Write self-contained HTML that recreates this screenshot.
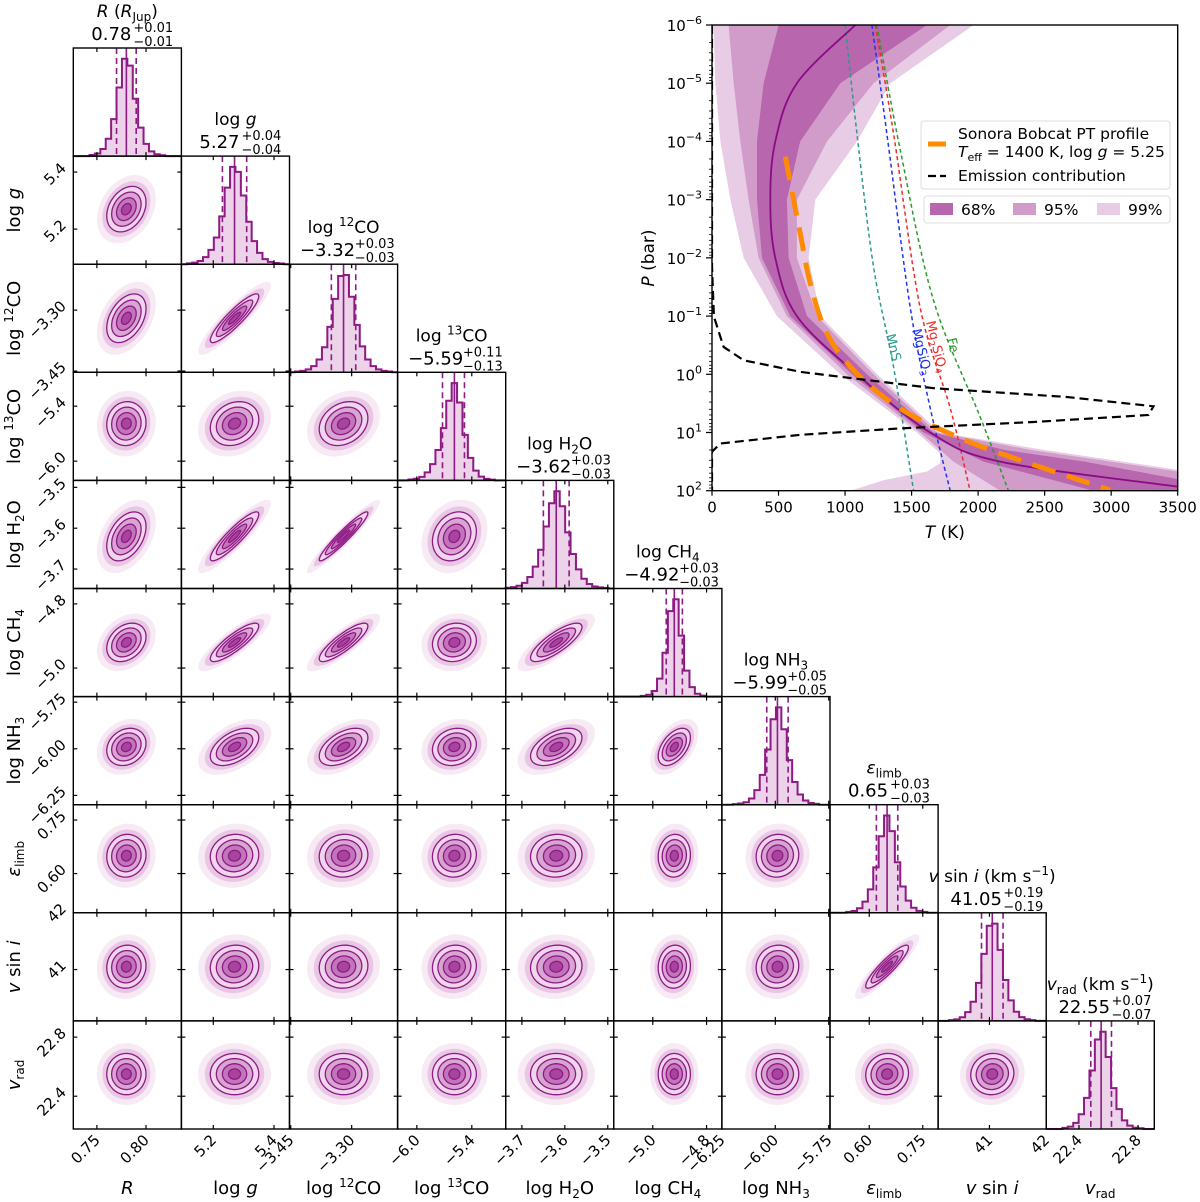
<!DOCTYPE html>
<html><head><meta charset="utf-8">
<style>
html,body{margin:0;padding:0;background:#fff;}
svg{display:block;font-family:"DejaVu Sans","Liberation Sans",sans-serif;}
</style></head>
<body>
<svg id="fig" width="1200" height="1202" viewBox="0 0 1200 1202" xmlns="http://www.w3.org/2000/svg">
<defs>
<clipPath id="ptclip"><rect x="712" y="25" width="466" height="466"/></clipPath>
</defs>
<g id="corner"></g>
<g id="pt"></g>
</svg>
<script>
// ===== Corner plot data =====
const paramNames = ["R","log g","log 12CO","log 13CO","log H2O","log CH4","log NH3","eps_limb","v sin i","v_rad"];
const medians = [0.78, 5.27, -3.32, -5.59, -3.62, -4.92, -5.99, 0.65, 41.05, 22.55];
const sigPlus = [0.01, 0.04, 0.03, 0.11, 0.03, 0.03, 0.05, 0.03, 0.19, 0.07];
const sigMinus = [0.01, 0.04, 0.03, 0.13, 0.03, 0.03, 0.05, 0.03, 0.19, 0.07];
const plusLabels = ["+0.01","+0.04","+0.03","+0.11","+0.03","+0.03","+0.05","+0.03","+0.19","+0.07"];
const minusLabels = ["−0.01","−0.04","−0.03","−0.13","−0.03","−0.03","−0.05","−0.03","−0.19","−0.07"];
const medianLabels = ["0.78","5.27","−3.32","−5.59","−3.62","−4.92","−5.99","0.65","41.05","22.55"];
const xMin = [0.726, 5.095, -3.453, -6.21, -3.7377, -5.145, -6.25, 0.49, 40.095, 22.178];
const xMax = [0.836, 5.451, -3.187, -5.03, -3.486, -4.743, -5.744, 0.793, 42.0, 22.91];
const yMin = [0.726, 5.077, -3.453, -6.21, -3.7476, -5.089, -6.30, 0.49, 40.095, 22.178];
const yMax = [0.836, 5.456, -3.187, -5.03, -3.483, -4.752, -5.72, 0.793, 42.0, 22.91];
const tickVals = [[0.75,0.80],[5.2,5.4],[-3.45,-3.30],[-6.0,-5.4],[-3.7,-3.6,-3.5],[-5.0,-4.8],[-6.25,-6.00,-5.75],[0.60,0.75],[41,42],[22.4,22.8]];
const tickText = [["0.75","0.80"],["5.2","5.4"],["−3.45","−3.30"],["−6.0","−5.4"],["−3.7","−3.6","−3.5"],["−5.0","−4.8"],["−6.25","−6.00","−5.75"],["0.60","0.75"],["41","42"],["22.4","22.8"]];
const histShapeZ = [-4,-3.5,-3,-2.5,-2,-1.5,-1,-0.5,0,0.5,1,1.5,2,2.5,3,3.5,4];
const histShape = [0.5,1,2,5,12,25,48,80,100,82,50,26,12,5,2,1,0.5];
const corr = [
 [],
 [0.3],
 [0.4,0.9],
 [0.05,0.2,0.25],
 [0.4,0.9,0.95,0.2],
 [0.3,0.85,0.85,0.1,0.8],
 [0.2,0.5,0.5,0.15,0.5,0.5],
 [0.05,0.05,0.05,0.05,0.05,0.05,0.05],
 [0.05,0.05,0.05,0.05,0.05,0.05,0.05,0.9],
 [0.0,0.0,0.0,0.0,0.0,0.0,0.0,0.05,0.05]
];

const NS="http://www.w3.org/2000/svg";
const X0=73.3, Y0=48, W=108.1;
function mk(parent,tag,attrs){const e=document.createElementNS(NS,tag);for(const k in attrs)e.setAttribute(k,attrs[k]);parent.appendChild(e);return e;}
function xs(p,v,col){return X0+col*W+(v-xMin[p])/(xMax[p]-xMin[p])*W;}
function ys(p,v,row){return Y0+(row+1)*W-(v-yMin[p])/(yMax[p]-yMin[p])*W;}
const corner=document.getElementById('corner');
const PURPLE="#8e1a84";

function shapeAt(z){
 if(z<=histShapeZ[0]||z>=histShapeZ[histShapeZ.length-1])return 0;
 for(let k=0;k<histShapeZ.length-1;k++){if(z>=histShapeZ[k]&&z<=histShapeZ[k+1]){const t=(z-histShapeZ[k])/(histShapeZ[k+1]-histShapeZ[k]);return histShape[k]*(1-t)+histShape[k+1]*t;}}
 return 0;
}

const titleNames = [
 '<tspan font-style="italic">R</tspan> (<tspan font-style="italic">R</tspan><tspan font-size="12" dy="4">Jup</tspan><tspan dy="-4">)</tspan>',
 'log  <tspan font-style="italic">g</tspan>',
 'log  <tspan font-size="12" dy="-7">12</tspan><tspan dy="7">CO</tspan>',
 'log  <tspan font-size="12" dy="-7">13</tspan><tspan dy="7">CO</tspan>',
 'log  H<tspan font-size="12" dy="4">2</tspan><tspan dy="-4">O</tspan>',
 'log  CH<tspan font-size="12" dy="4">4</tspan>',
 'log  NH<tspan font-size="12" dy="4">3</tspan>',
 '<tspan font-style="italic">ε</tspan><tspan font-size="12" dy="4">limb</tspan>',
 '<tspan font-style="italic">v</tspan> sin <tspan font-style="italic">i</tspan> (km s<tspan font-size="12" dy="-7">−1</tspan><tspan dy="7">)</tspan>',
 '<tspan font-style="italic">v</tspan><tspan font-size="12" dy="4">rad</tspan><tspan dy="-4"> (km s</tspan><tspan font-size="12" dy="-7">−1</tspan><tspan dy="7">)</tspan>'
];
const axisNames = [
 '<tspan font-style="italic">R</tspan>',
 'log  <tspan font-style="italic">g</tspan>',
 'log  <tspan font-size="12" dy="-7">12</tspan><tspan dy="7">CO</tspan>',
 'log  <tspan font-size="12" dy="-7">13</tspan><tspan dy="7">CO</tspan>',
 'log  H<tspan font-size="12" dy="4">2</tspan><tspan dy="-4">O</tspan>',
 'log  CH<tspan font-size="12" dy="4">4</tspan>',
 'log  NH<tspan font-size="12" dy="4">3</tspan>',
 '<tspan font-style="italic">ε</tspan><tspan font-size="12" dy="4">limb</tspan>',
 '<tspan font-style="italic">v</tspan> sin <tspan font-style="italic">i</tspan>',
 '<tspan font-style="italic">v</tspan><tspan font-size="12" dy="4">rad</tspan>'
];

const N=10;
for(let i=0;i<N;i++){
 for(let j=0;j<=i;j++){
  const px=X0+j*W, py=Y0+i*W;
  const g=mk(corner,'g',{});
  
  
  if(i===j){
   const nb=20, bw=(xMax[i]-xMin[i])/nb;
   const counts=[];
   for(let b=0;b<nb;b++){const c=xMin[i]+(b+0.5)*bw;const s=c<medians[i]?sigMinus[i]:sigPlus[i];counts.push(shapeAt((c-medians[i])/s));}
   const mx=Math.max(...counts);
   let d='M'+px+','+(py+W);
   for(let b=0;b<nb;b++){const x0=xs(i,xMin[i]+b*bw,j),x1=xs(i,xMin[i]+(b+1)*bw,j);const h=py+W-counts[b]/mx*(W*0.9);d+=' L'+x0+','+h+' L'+x1+','+h;}
   d+=' L'+(px+W)+','+(py+W);
   const hf=mk(g,'path',{d:d+' Z',fill:'#ecd3ea',stroke:'none'});
   
   
   const hs=mk(g,'path',{d:d,fill:'none',stroke:PURPLE,'stroke-width':2});
   
   
   const qs=[medians[i]-sigMinus[i],medians[i],medians[i]+sigPlus[i]];
   qs.forEach((q,k)=>{const x=xs(i,q,j);const l=mk(g,'line',{x1:x,x2:x,y1:py,y2:py+W,stroke:PURPLE,'stroke-width':1.6,'stroke-dasharray':k===1?'none':'6,4'});
    
    });
   const t1=mk(g,'text',{x:px+W/2,y:py-31,'text-anchor':'middle','font-size':17});
   t1.innerHTML=titleNames[i];
   
   
   const bb=medianLabels[i].length*10.5;
   const vx=px+W/2-16;
   const t2=mk(g,'text',{x:vx,y:py-8,'text-anchor':'middle','font-size':18});
   t2.textContent=medianLabels[i];
   
   
   const tp=mk(g,'text',{x:vx+bb/2+1,y:py-16,'font-size':13});
   tp.textContent=plusLabels[i];
   
   
   const tm=mk(g,'text',{x:vx+bb/2+1,y:py-2,'font-size':13});
   tm.textContent=minusLabels[i];
   
   
  } else {
   const cx=xs(j,medians[j],j), cy=ys(i,medians[i],i);
   const ax=(sigPlus[j]+sigMinus[j])/2/(xMax[j]-xMin[j])*W;
   const ay=(sigPlus[i]+sigMinus[i])/2/(yMax[i]-yMin[i])*W;
   const rho=corr[i][j];
   const cl=mk(g,'clipPath',{id:'c'+i+'_'+j});
   mk(cl,'rect',{x:px,y:py,width:W,height:W});
   const inner=mk(g,'g',{'clip-path':'url(#c'+i+'_'+j+')'});
   function ell(r){let pts=[];for(let k=0;k<48;k++){const t=k/48*2*Math.PI;const u=Math.cos(t),v=Math.sin(t);pts.push((cx+ax*r*u).toFixed(1)+','+(cy-ay*r*(rho*u+Math.sqrt(1-rho*rho)*v)).toFixed(1));}return pts.join(' ');}
   const cld=mk(inner,'polygon',{points:ell(3.0),fill:'#efd6ec','fill-opacity':0.5});
   
   
   const cld2=mk(inner,'polygon',{points:ell(2.45),fill:'#dcaad6','fill-opacity':0.55});
   
   
   const levels=[2,1.5,1,0.5], fills=['#efd6ec','#d9a6d3','#c275ba','#a8449f'];
   levels.forEach((r,k)=>{const p=mk(inner,'polygon',{points:ell(r),fill:fills[k],stroke:PURPLE,'stroke-width':1.3});
    
    });
  }
  const fr=mk(g,'rect',{x:px,y:py,width:W,height:W,fill:'none',stroke:'#000','stroke-width':1.4});
  
  
  tickVals[j].forEach(v=>{const x=xs(j,v,j);if(x<px-0.5||x>px+W+0.5)return;
   mk(g,'line',{x1:x,x2:x,y1:py+W,y2:py+W-4,stroke:'#000','stroke-width':1.2});
   mk(g,'line',{x1:x,x2:x,y1:py,y2:py+4,stroke:'#000','stroke-width':1.2});});
  if(i!==j){tickVals[i].forEach(v=>{const y=ys(i,v,i);if(y<py-0.5||y>py+W+0.5)return;
   mk(g,'line',{x1:px,x2:px+4,y1:y,y2:y,stroke:'#000','stroke-width':1.2});
   mk(g,'line',{x1:px+W,x2:px+W-4,y1:y,y2:y,stroke:'#000','stroke-width':1.2});});}
 }
}
for(let j=0;j<N;j++){
 tickVals[j].forEach((v,k)=>{const x=xs(j,v,j);
  const t=mk(corner,'text',{x:x+4,y:1141,'text-anchor':'end','font-size':15,transform:'rotate(-45 '+(x+4)+' 1141)'});
  t.textContent=tickText[j][k];
  
  });
 const al=mk(corner,'text',{x:X0+j*W+W/2,y:1194,'text-anchor':'middle','font-size':18});
 al.innerHTML=axisNames[j];
 
 
}
for(let i=1;i<N;i++){
 tickVals[i].forEach((v,k)=>{const y=ys(i,v,i);
  const t=mk(corner,'text',{x:67,y:y-3,'text-anchor':'end','font-size':15,transform:'rotate(-45 67 '+(y-3)+')'});
  t.textContent=tickText[i][k];
  
  });
 const cy=Y0+i*W+W/2;
 const al=mk(corner,'text',{x:20,y:cy,'text-anchor':'middle','font-size':18,transform:'rotate(-90 20 '+cy+')'});
 al.innerHTML=axisNames[i];
 
 
}

// ===== PT profile data =====
const medianT = [1077,638,476,438,476,638,1090,1640,2166,3500];
const medianLogP = [-6,-5,-4,-3,-2,-1,0,1,1.5,1.93];
const band99LeftP = [-6,-5,-4,-3,-2,-1,0,1,1.36,1.53,1.67,1.82,2];
const band99LeftT = [13,25,63,138,238,488,964,1540,1715,1715,1615,1290,1040];
const band99RightP = [-6,-5,-4,-3,-2,-1,0,1,1.3,1.64,2];
const band99RightT = [1966,1340,1090,776,726,814,1240,1715,2500,3500,3500];
const band95LeftP = [-6,-5,-4,-3,-2,-1,0,1,1.5,2];
const band95LeftT = [125,163,213,275,350,563,1014,1565,1815,2166];
const band95RightP = [-6,-5,-4,-3,-2,-1,0,1,1.3,1.67,2];
const band95RightT = [1790,1214,864,638,638,789,1214,1690,2400,3500,3500];
const band68LeftP = [-6,-5,-4,-3,-2,-1,0,1,1.5,2];
const band68LeftT = [501,388,338,338,376,588,1052,1590,2040,2867];
const band68RightP = [-6,-5,-4,-3,-2,-1,0,1,1.3,1.5,1.8,2];
const band68RightT = [1615,964,663,563,576,714,1164,1665,2200,2800,3500,3500];
const sonoraT = [551,663,739,864,1089,1415,1790,2166,2992];
const sonoraLogP = [-3.74,-2.42,-1.56,-0.70,-0.01,0.59,1.02,1.36,1.99];
const emissionLogP = [-6,-2.0,-1.85,-0.99,-0.47,-0.24,-0.04,0.24,0.39,0.55,0.70,0.82,0.93,1.04,1.19,1.33,2];
const emissionContrib = [0,0,0,0.004,0.025,0.068,0.19,0.476,0.762,0.948,0.937,0.69,0.404,0.19,0.018,0,0];
const mnsT = [1001,1089,1214,1364,1515];
const mnsLogP = [-6,-4.14,-1.85,-0.13,2];
const mgsio3T = [1202,1314,1490,1640,1790];
const mgsio3LogP = [-6,-4.14,-1.14,0.58,2];
const mg2sio4T = [1227,1364,1565,1790,1940];
const mg2sio4LogP = [-6,-4.14,-1.14,0.58,2];
const feT = [1239,1415,1665,2015,2228];
const feLogP = [-6,-3.85,-1.27,0.73,2];
const tTicks = [0,500,1000,1500,2000,2500,3000,3500];
const pTicks = [-6,-5,-4,-3,-2,-1,0,1,2];

const PL=712, PR=1177.7, PT=25, PB=490.7;
function tx(T){return PL+T/3500*(PR-PL);}
function py_(lp){return PT+(lp+6)/8*(PB-PT);}
const pt=document.getElementById('pt');
const clipG=mk(pt,'g',{'clip-path':'url(#ptclip)'});
function band(lP,lT,rP,rT,color,name){
 const pts=[];for(let k=0;k<lP.length;k++)pts.push(tx(lT[k]).toFixed(1)+','+py_(lP[k]).toFixed(1));
 for(let k=rP.length-1;k>=0;k--)pts.push(tx(rT[k]).toFixed(1)+','+py_(rP[k]).toFixed(1));
 const p=mk(clipG,'polygon',{points:pts.join(' '),fill:color});
 
 
}
band(band99LeftP,band99LeftT,band99RightP,band99RightT,'#e8cbe5','band-99');
band(band95LeftP,band95LeftT,band95RightP,band95RightT,'#d19cca','band-95');
band(band68LeftP,band68LeftT,band68RightP,band68RightT,'#b866ad','band-68');
function line(Ts,Ps,attrs,name){
 const d=Ts.map((T,k)=>(k?'L':'M')+tx(T).toFixed(1)+','+py_(Ps[k]).toFixed(1)).join(' ');
 const p=mk(clipG,'path',Object.assign({d:d,fill:'none'},attrs));
 
 
}
function smoothLine(Ts,Ps,attrs,name){
 const P=Ts.map((T,k)=>[tx(T),py_(Ps[k])]);
 let d='M'+P[0][0].toFixed(1)+','+P[0][1].toFixed(1);
 for(let k=0;k<P.length-1;k++){const p0=P[Math.max(0,k-1)],p1=P[k],p2=P[k+1],p3=P[Math.min(P.length-1,k+2)];
  d+=' C'+(p1[0]+(p2[0]-p0[0])/6).toFixed(1)+','+(p1[1]+(p2[1]-p0[1])/6).toFixed(1)+' '+(p2[0]-(p3[0]-p1[0])/6).toFixed(1)+','+(p2[1]-(p3[1]-p1[1])/6).toFixed(1)+' '+p2[0].toFixed(1)+','+p2[1].toFixed(1);}
 const p=mk(clipG,'path',Object.assign({d:d,fill:'none'},attrs));
 
 
}
smoothLine(mnsT,mnsLogP,{stroke:'#2a9a8f','stroke-width':1.5,'stroke-dasharray':'4,3'},'mns-condensation-curve');
smoothLine(mgsio3T,mgsio3LogP,{stroke:'#2233ee','stroke-width':1.5,'stroke-dasharray':'4,3'},'mgsio3-condensation-curve');
smoothLine(mg2sio4T,mg2sio4LogP,{stroke:'#ee2a2a','stroke-width':1.5,'stroke-dasharray':'4,3'},'mg2sio4-condensation-curve');
smoothLine(feT,feLogP,{stroke:'#2a9a2a','stroke-width':1.5,'stroke-dasharray':'4,3'},'fe-condensation-curve');
smoothLine(medianT,medianLogP,{stroke:'#8b0a86','stroke-width':1.8},'median-pt-profile');
smoothLine(sonoraT,sonoraLogP,{stroke:'#ff8c00','stroke-width':5,'stroke-dasharray':'24,12'},'sonora-bobcat-profile');
const emT=emissionContrib.map(c=>c*3500);
line(emT,emissionLogP,{stroke:'#000','stroke-width':2.2,'stroke-dasharray':'9,5'},'emission-contribution');

[['MnS','#2a9a8f',886,335],['MgSiO<tspan font-size="9" dy="3">3</tspan>','#2233ee',912,330],['Mg<tspan font-size="9" dy="3">2</tspan><tspan dy="-3">SiO</tspan><tspan font-size="9" dy="3">4</tspan>','#ee2a2a',926,322],['Fe','#2a9a2a',947,339]].forEach(a=>{
 const t=mk(pt,'text',{x:a[2],y:a[3],fill:a[1],'font-size':13,transform:'rotate(76 '+a[2]+' '+a[3]+')'});
 t.innerHTML=a[0];
 
 
});
const fr=mk(pt,'rect',{x:PL,y:PT,width:PR-PL,height:PB-PT,fill:'none',stroke:'#000','stroke-width':1.4});


tTicks.forEach(T=>{const x=tx(T);mk(pt,'line',{x1:x,x2:x,y1:PB,y2:PB+5,stroke:'#000','stroke-width':1.2});
 const t=mk(pt,'text',{x:x,y:PB+22,'text-anchor':'middle','font-size':15});t.textContent=String(T);
 
 });
pTicks.forEach(lp=>{const y=py_(lp);mk(pt,'line',{x1:PL-6,x2:PL,y1:y,y2:y,stroke:'#000','stroke-width':1.2});
 for(let m=2;m<10&&lp<2;m++){const ym=py_(lp+Math.log10(m));mk(pt,'line',{x1:PL-3,x2:PL,y1:ym,y2:ym,stroke:'#000','stroke-width':0.8});}
 const t=mk(pt,'text',{x:PL-10,y:y+6,'text-anchor':'end','font-size':15});
 t.innerHTML='10<tspan font-size="11" dy="-7">'+(lp<0?'−'+(-lp):lp)+'</tspan>';
 
 });
const xl=mk(pt,'text',{x:(PL+PR)/2,y:538,'text-anchor':'middle','font-size':17});
xl.innerHTML='<tspan font-style="italic">T</tspan> (K)';


const yl=mk(pt,'text',{x:654,y:258,'text-anchor':'middle','font-size':17,transform:'rotate(-90 654 258)'});
yl.innerHTML='<tspan font-style="italic">P</tspan> (bar)';



const lg=mk(pt,'g',{});


mk(lg,'rect',{x:921,y:121,width:249,height:68,rx:3,fill:'#fff','fill-opacity':0.85,stroke:'#ddd'});
mk(lg,'line',{x1:928,x2:946,y1:144,y2:144,stroke:'#ff8c00','stroke-width':5});
mk(lg,'line',{x1:928,x2:946,y1:176,y2:176,stroke:'#000','stroke-width':2.2,'stroke-dasharray':'8,4'});
const l1=mk(lg,'text',{x:958,y:139,'font-size':15.5});l1.textContent='Sonora Bobcat PT profile';


const l2=mk(lg,'text',{x:958,y:157,'font-size':15.5});
l2.innerHTML='<tspan font-style="italic">T</tspan><tspan font-size="11" dy="4">eff</tspan><tspan dy="-4"> = 1400 K,  log  </tspan><tspan font-style="italic">g</tspan> = 5.25';


const l3=mk(lg,'text',{x:958,y:181,'font-size':15.5});l3.textContent='Emission contribution';


const lg2=mk(pt,'g',{});


mk(lg2,'rect',{x:924,y:196,width:246,height:27,rx:3,fill:'#fff','fill-opacity':0.85,stroke:'#ddd'});
[['#b866ad','68%',930],['#d19cca','95%',1013],['#e8cbe5','99%',1097]].forEach(a=>{
 mk(lg2,'rect',{x:a[2],y:203,width:23,height:12,fill:a[0]});
 const t=mk(lg2,'text',{x:a[2]+31,y:215,'font-size':15.5});t.textContent=a[1];
 
 
});
</script>
</body></html>
